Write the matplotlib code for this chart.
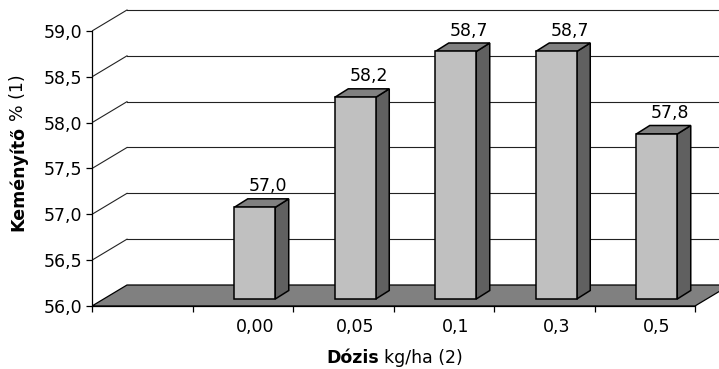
import matplotlib
matplotlib.use("Agg")
import numpy as np
import matplotlib.pyplot as plt
from matplotlib.patches import Polygon

# Starch content by dose; the first category slot is left empty
categories = ["", "0,00", "0,05", "0,1", "0,3", "0,5"]
values = [np.nan, 57.0, 58.2, 58.7, 58.7, 57.8]
y_ticks = [56.0, 56.5, 57.0, 57.5, 58.0, 58.5, 59.0]
y_tick_labels = ["56,0", "56,5", "57,0", "57,5", "58,0", "58,5", "59,0"]

FS = 12.5
plt.rcParams["font.family"] = ["DejaVu Sans"]

W, H = 719, 369
fig = plt.figure(figsize=(W / 100, H / 100), dpi=100)

# axes geometry in pixels
x0_px, y0_px = 92, 63
px_per_cat = 100.5
px_per_val = 91.67
ax = fig.add_axes([x0_px / W, y0_px / H, (W - x0_px) / W, (H - y0_px) / H])
ax.set_xlim(0, (W - x0_px) / px_per_cat)
ax.set_ylim(56.0, 56.0 + (H - y0_px) / px_per_val)

# pseudo-3D offsets (data units)
DX, DY = 35 / px_per_cat, 21 / px_per_val      # wall / floor depth
BX, BY = 12 / px_per_cat, 7 / px_per_val        # bar front offset
BDX, BDY = 13.5 / px_per_cat, 8.5 / px_per_val  # bar depth
BW = 41 / px_per_cat                            # bar width
n = len(categories)
base = y_ticks[0]

# back wall and side wall gridlines
for t in y_ticks[1:]:
    ax.plot([0, DX], [t, t + DY], color="#222222", lw=0.8, zorder=1)
    ax.plot([DX, n + 2], [t + DY, t + DY], color="#222222", lw=0.8, zorder=1)

# floor
floor = Polygon([(0, base), (n, base), (n + DX, base + DY), (DX, base + DY)],
                closed=True, facecolor="#808080", edgecolor="black", lw=0.9, zorder=2)
ax.add_patch(floor)

# bars
for i, v in enumerate(values):
    if np.isnan(v):
        continue
    xl = i + 0.5 - BW / 2 + BX
    xr = xl + BW
    yb = base + BY
    yt = v + BY
    front = Polygon([(xl, yb), (xr, yb), (xr, yt), (xl, yt)], closed=True,
                    facecolor="#C0C0C0", edgecolor="black", lw=1.1, zorder=4,
                    joinstyle="miter")
    side = Polygon([(xr, yb), (xr + BDX, yb + BDY), (xr + BDX, yt + BDY), (xr, yt)],
                   closed=True, facecolor="#606060", edgecolor="black", lw=1.1,
                   zorder=3, joinstyle="miter")
    top = Polygon([(xl, yt), (xr, yt), (xr + BDX, yt + BDY), (xl + BDX, yt + BDY)],
                  closed=True, facecolor="#808080", edgecolor="black", lw=1.1,
                  zorder=3, joinstyle="miter")
    for p in (side, top, front):
        ax.add_patch(p)
    ax.annotate(f"{v:.1f}".replace(".", ","), (xl + BDX + BW / 2, yt + BDY),
                xytext=(0, 2.5), textcoords="offset points", ha="center",
                va="bottom", fontsize=FS, zorder=5)

# axes lines and ticks
for s in ("top", "right"):
    ax.spines[s].set_visible(False)
ax.spines["left"].set_bounds(y_ticks[0], y_ticks[-1])
ax.spines["bottom"].set_bounds(0, n)
for s in ("left", "bottom"):
    ax.spines[s].set_linewidth(0.9)
    ax.spines[s].set_zorder(6)

ax.set_yticks(y_ticks)
ax.set_yticklabels(y_tick_labels, fontsize=FS)
ax.tick_params(axis="y", direction="out", length=4, width=0.9, pad=3)

ax.set_xticks(range(n + 1))
ax.set_xticklabels([])
ax.tick_params(axis="x", which="major", direction="out", length=4, width=0.9)
label_pos = [i + 0.5 + BX for i in range(n)]
ax.set_xticks(label_pos, minor=True)
ax.set_xticklabels(categories, minor=True, fontsize=FS)
ax.tick_params(axis="x", which="minor", length=0, pad=9)

# axis titles with a bold leading word
fig.canvas.draw()
renderer = fig.canvas.get_renderer()


def two_part(x_px, y_px, bold, regular, rotation=0):
    t1 = fig.text(0, 0, bold, fontsize=FS, fontweight="bold", transform=None,
                  rotation=rotation, rotation_mode="anchor", ha="left", va="baseline")
    t2 = fig.text(0, 0, regular, fontsize=FS, transform=None,
                  rotation=rotation, rotation_mode="anchor", ha="left", va="baseline")
    e1 = t1.get_window_extent(renderer)
    e2 = t2.get_window_extent(renderer)
    gap = 5
    if rotation == 0:
        total = e1.width + gap + e2.width
        start = x_px - total / 2
        t1.set_position((start, y_px))
        t2.set_position((start + e1.width + gap, y_px))
    else:
        total = e1.height + gap + e2.height
        start = y_px - total / 2
        t1.set_position((x_px, start))
        t2.set_position((x_px, start + e1.height + gap))


two_part(395, H - 363, "Dózis", "kg/ha (2)")
two_part(23, H - 153, "Keményítő", "% (1)", rotation=90)

fig.savefig("out.png", dpi=100)
